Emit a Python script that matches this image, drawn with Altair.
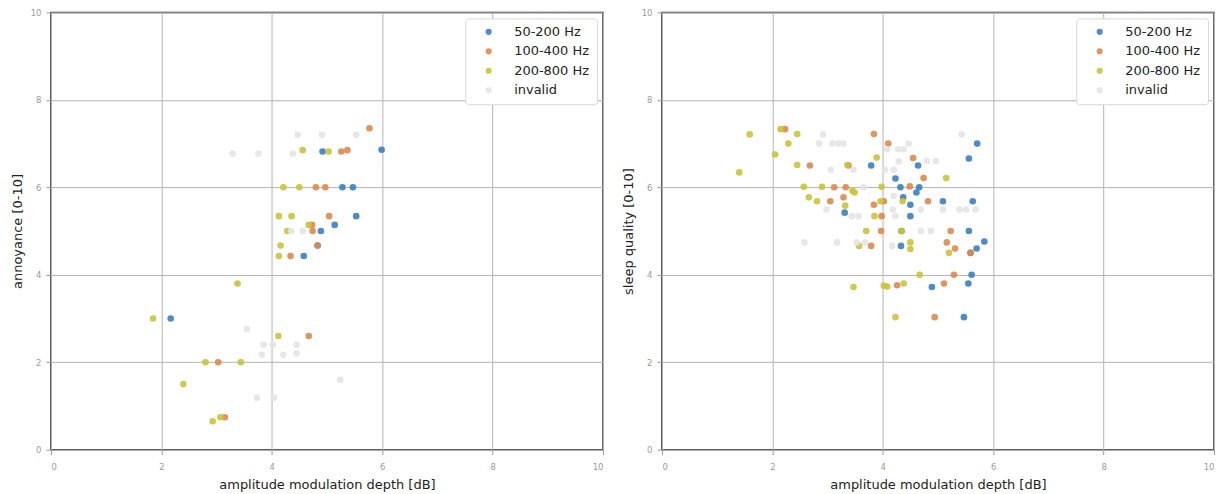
import altair as alt
import pandas as pd

GROUPS = ["50-200 Hz", "100-400 Hz", "200-800 Hz", "invalid"]
COLORS = ["#3a80c0", "#dd8a50", "#c8c43a", "#e4e4e4"]

# --- annoyance vs. modulation depth ---
ann_blue_x = [2.17, 4.58, 4.89, 5.14, 5.53, 5.28, 5.47, 4.92, 5.99, 4.83]
ann_blue_y = [3.0, 4.43, 5.0, 5.14, 5.34, 6.0, 6.0, 6.82, 6.86, 4.67]
ann_orange_x = [3.03, 3.15, 4.67, 4.34, 4.83, 4.74, 4.73, 5.04, 4.80, 4.97, 5.26, 5.37, 5.77]
ann_orange_y = [2.0, 0.74, 2.6, 4.43, 4.67, 5.0, 5.14, 5.34, 6.0, 6.0, 6.82, 6.85, 7.35]
ann_yellow_x = [1.85, 2.40, 2.80, 2.93, 3.07, 3.44, 3.38, 4.12, 4.13, 4.16, 4.28, 4.67,
                4.13, 4.36, 4.21, 4.50, 4.56, 5.03]
ann_yellow_y = [3.0, 1.5, 2.0, 0.65, 0.74, 2.0, 3.8, 2.6, 4.43, 4.67, 5.0, 5.14,
                5.34, 5.34, 6.0, 6.0, 6.85, 6.82]
ann_invalid_x = [3.55, 3.85, 4.02, 4.45, 3.82, 4.21, 4.45, 5.24, 3.73, 4.04, 4.35, 4.56,
                 3.29, 3.76, 4.38, 4.47, 4.91, 5.53]
ann_invalid_y = [2.76, 2.4, 2.4, 2.4, 2.17, 2.17, 2.2, 1.6, 1.19, 1.19, 5.0, 5.0,
                 6.77, 6.77, 6.77, 7.2, 7.2, 7.2]

# --- sleep quality vs. modulation depth ---
slp_blue_x = [5.71, 5.56, 3.79, 4.64, 4.23, 4.32, 4.66, 4.61, 4.37, 5.09, 5.63, 4.50,
              3.31, 4.50, 4.34, 5.56, 4.33, 5.59, 5.70, 5.84, 5.61, 5.55, 4.89, 5.47]
slp_blue_y = [7.0, 6.66, 6.5, 6.5, 6.2, 6.0, 6.0, 5.88, 5.77, 5.68, 5.68, 5.6,
              5.42, 5.34, 5.0, 5.0, 4.66, 4.5, 4.6, 4.76, 4.0, 3.8, 3.72, 3.03]
slp_orange_x = [2.23, 3.84, 4.10, 4.55, 2.68, 3.38, 4.74, 3.12, 3.33, 4.49, 3.05, 3.29,
                4.02, 4.82, 3.84, 3.98, 3.97, 5.23, 3.79, 5.16, 5.31, 5.59, 5.29, 5.11,
                4.26, 4.94]
slp_orange_y = [7.33, 7.22, 7.0, 6.67, 6.5, 6.5, 6.21, 6.0, 6.0, 6.02, 5.68, 5.77,
                5.68, 5.68, 5.6, 5.34, 5.0, 5.0, 4.66, 4.74, 4.6, 4.5, 4.0, 3.8,
                3.76, 3.03]
slp_yellow_x = [1.59, 2.15, 2.45, 2.29, 2.05, 3.89, 2.45, 3.36, 1.40, 5.15, 2.57, 2.90,
                3.45, 3.49, 3.98, 2.66, 2.81, 3.32, 3.96, 4.36, 3.85, 3.70, 4.34, 3.57,
                4.50, 4.50, 5.20, 4.67, 3.47, 4.02, 4.08, 4.38, 4.23]
slp_yellow_y = [7.21, 7.33, 7.22, 7.0, 6.75, 6.68, 6.51, 6.51, 6.34, 6.21, 6.01, 6.01,
                5.92, 5.88, 6.01, 5.77, 5.68, 5.58, 5.68, 5.68, 5.34, 5.0, 5.0, 4.66,
                4.74, 4.59, 4.5, 4.0, 3.72, 3.75, 3.73, 3.8, 3.03]
slp_invalid_x = [2.92, 5.43, 2.85, 3.09, 3.20, 3.29, 4.47, 4.08, 4.28, 4.38, 4.29, 4.80,
                 4.96, 3.06, 3.47, 4.04, 4.20, 3.65, 4.20, 2.98, 4.18, 4.69, 5.09, 5.39,
                 5.51, 5.68, 3.44, 3.56, 4.23, 4.69, 4.87, 2.58, 3.17, 3.53, 3.68, 4.17]
slp_invalid_y = [7.21, 7.21, 7.0, 7.0, 7.0, 7.0, 7.0, 6.87, 6.87, 6.87, 6.59, 6.6,
                 6.6, 6.4, 6.4, 6.4, 6.4, 6.0, 5.8, 5.49, 5.49, 5.49, 5.49, 5.49,
                 5.49, 5.49, 5.34, 5.34, 5.34, 5.0, 5.0, 4.74, 4.74, 4.74, 4.74, 4.66]


def build_frame(series):
    rows = []
    order = 0
    for group, xs, ys in series:
        for x, y in zip(xs, ys):
            rows.append({"x": x, "y": y, "group": group, "z": order})
            order += 1
    return pd.DataFrame(rows)


ann_df = build_frame([
    (GROUPS[0], ann_blue_x, ann_blue_y),
    (GROUPS[1], ann_orange_x, ann_orange_y),
    (GROUPS[2], ann_yellow_x, ann_yellow_y),
    (GROUPS[3], ann_invalid_x, ann_invalid_y),
])
slp_df = build_frame([
    (GROUPS[0], slp_blue_x, slp_blue_y),
    (GROUPS[1], slp_orange_x, slp_orange_y),
    (GROUPS[2], slp_yellow_x, slp_yellow_y),
    (GROUPS[3], slp_invalid_x, slp_invalid_y),
])

TICKS = [0, 2, 4, 6, 8, 10]
FONT = "DejaVu Sans"


def axis(orient):
    common = dict(
        values=TICKS, grid=True, gridColor="#b4b4b4", gridWidth=1, domain=False,
        labelColor="#9a9a9a", labelFontSize=8.5, labelFont=FONT,
        tickColor="#9a9a9a", tickSize=5, titleColor="#222222", titleFontSize=13,
        titleFont=FONT, titleFontWeight="normal",
    )
    if orient == "x":
        return alt.Axis(labelPadding=8, titlePadding=7, **common)
    return alt.Axis(labelPadding=5, titlePadding=6, **common)


def panel(df, ytitle):
    return alt.Chart(df).mark_circle(size=44, opacity=0.9).encode(
        x=alt.X("x:Q", scale=alt.Scale(domain=[0, 10], nice=False),
                axis=axis("x"), title="amplitude modulation depth [dB]"),
        y=alt.Y("y:Q", scale=alt.Scale(domain=[0, 10], nice=False),
                axis=axis("y"), title=ytitle),
        color=alt.Color(
            "group:N",
            scale=alt.Scale(domain=GROUPS, range=COLORS),
            legend=alt.Legend(
                title=None, orient="top-right", offset=6, fillColor="white",
                strokeColor="#d8d8d8", padding=7, cornerRadius=3,
                labelFontSize=13, labelFont=FONT, labelColor="#222222",
                symbolType="circle", symbolSize=38, symbolOpacity=0.9,
                symbolOffset=10, labelOffset=19, rowPadding=5.5,
            ),
        ),
        order=alt.Order("z:Q"),
    ).properties(width=553, height=438)


chart = alt.hconcat(
    panel(ann_df, "annoyance [0-10]"),
    panel(slp_df, "sleep quality [0-10]"),
    spacing=59, bounds="flush",
).resolve_scale(color="independent").configure_view(
    stroke="#333333", strokeWidth=1.5
).properties(
    padding={"left": 10, "top": 7, "right": 5, "bottom": 5},
    background="white",
)

chart.save("out.html", embed_options={"renderer": "svg", "actions": False})
